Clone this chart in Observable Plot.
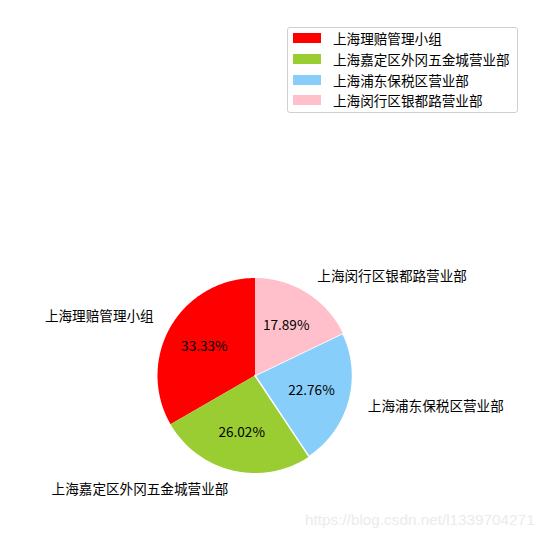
<!DOCTYPE html>
<html><head><meta charset="utf-8">
<script src="https://cdn.jsdelivr.net/npm/d3@7"></script>
<script src="https://cdn.jsdelivr.net/npm/@observablehq/plot@0.6"></script>
<style>
body{margin:0;background:#fff;font-family:"Noto Sans CJK SC",sans-serif;}
#wrap{position:relative;width:551px;height:538px;overflow:hidden;}
#legend{position:absolute;left:287px;top:27px;width:231px;height:86px;border:1px solid #d0d0d0;border-radius:3px;background:#fff;box-sizing:border-box;}
.row{position:absolute;left:5px;height:21px;display:flex;align-items:center;font-size:13.6px;color:#000;white-space:nowrap;}
.sw{width:28px;height:10px;margin-right:12px;}
#wm{position:absolute;left:305px;top:511px;font-family:"Liberation Sans",Arial,sans-serif;font-size:15.3px;color:#ebebeb;white-space:nowrap;}
</style></head>
<body><div id="wrap"><div id="chart"></div><div id="legend"></div><div id="wm">https://blog.csdn.net/l1339704271</div></div>
<script>
const labels = ["上海理赔管理小组","上海嘉定区外冈五金城营业部","上海浦东保税区营业部","上海闵行区银都路营业部"];
const values = [41, 32, 28, 22];
const colors = ["#ff0000","#9acd32","#87cefa","#ffc0cb"];

const total = d3.sum(values);
let start = 90;
const slices = values.map((v, i) => {
  const sweep = v / total * 360;
  const s = {i, label: labels[i], color: colors[i], pct: (v/total*100).toFixed(2) + "%", a0: start, a1: start + sweep, mid: start + sweep/2};
  start += sweep;
  return s;
});
const rad = a => a * Math.PI / 180;
function poly(s) {
  const pts = [{x: 0, y: 0}];
  const n = 120;
  for (let k = 0; k <= n; k++) {
    const a = rad(s.a0 + (s.a1 - s.a0) * k / n);
    pts.push({x: Math.cos(a), y: Math.sin(a)});
  }
  pts.push({x: 0, y: 0});
  return pts;
}
const outer = slices.map(s => ({x: 1.2*Math.cos(rad(s.mid)), y: 1.2*Math.sin(rad(s.mid)), t: s.label}));
const inner = slices.map(s => ({x: 0.6*Math.cos(rad(s.mid)), y: 0.6*Math.sin(rad(s.mid)), t: s.pct}));

const cx = 254.5, cy = 375, R = 97.5;
const marks = slices.map(s => Plot.line(poly(s), {x: "x", y: "y", fill: s.color, stroke: s.i === 2 ? "white" : "none", strokeWidth: 1.5, curve: "linear-closed"}));
marks.push(Plot.text(outer.filter(d => d.x >= 0), {x: "x", y: "y", text: "t", textAnchor: "start", fontSize: 13.6, fill: "black"}));
marks.push(Plot.text(outer.filter(d => d.x < 0), {x: "x", y: "y", text: "t", textAnchor: "end", fontSize: 13.6, fill: "black"}));
marks.push(Plot.text(inner, {x: "x", y: "y", text: "t", textAnchor: "middle", fontSize: 13.6, fill: "black"}));

const chart = Plot.plot({
  width: 551, height: 538, margin: 0,
  style: {fontFamily: '"Noto Sans CJK SC", sans-serif', background: "white"},
  x: {domain: [-1, 1], range: [cx - R, cx + R], axis: null},
  y: {domain: [-1, 1], range: [cy + R, cy - R], axis: null},
  marks
});
document.getElementById("chart").appendChild(chart);

const lg = document.getElementById("legend");
labels.forEach((l, i) => {
  const r = document.createElement("div");
  r.className = "row";
  r.style.top = (-0.5 + i * 20.8) + "px";
  r.innerHTML = `<span class="sw" style="background:${colors[i]}"></span><span>${l}</span>`;
  lg.appendChild(r);
});
</script></body></html>
